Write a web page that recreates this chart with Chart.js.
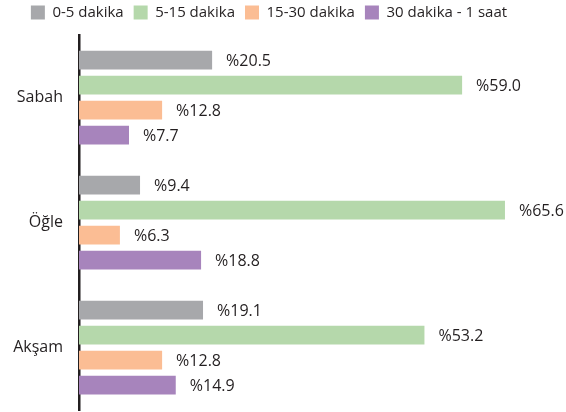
<!DOCTYPE html>
<html><head><meta charset="utf-8">
<script src="https://cdn.jsdelivr.net/npm/chart.js@4"></script>
<style>html,body{margin:0;padding:0;background:#fff;overflow:hidden}</style>
</head><body><canvas id="c" width="566" height="412" style="width:566px;height:412px;display:block"></canvas>
<script>
const categories = ["Sabah", "Öğle", "Akşam"];
const seriesNames = ["0-5 dakika", "5-15 dakika", "15-30 dakika", "30 dakika - 1 saat"];
const s05 = [20.5, 9.4, 19.1];
const s515 = [59.0, 65.6, 53.2];
const s1530 = [12.8, 6.3, 12.8];
const s30_60 = [7.7, 18.8, 14.9];
const colors = ["#a7a8ab", "#b5d8ab", "#fbbd94", "#a784bc"];
const FONT = "'Open Sans', sans-serif";

const labelPlugin = {
  id: 'vlabels',
  afterLayout(chart) {
    const lg = chart.legend;
    if (lg) { lg.left -= 14; lg.right -= 14; lg.top -= 5; lg.bottom -= 5; }
  },
  afterDatasetsDraw(chart) {
    const ctx = chart.ctx;
    ctx.save();
    ctx.font = "16px " + FONT;
    ctx.fillStyle = "#231f20";
    ctx.textBaseline = "middle";
    ctx.textAlign = "left";
    chart.data.datasets.forEach((ds, i) => {
      const meta = chart.getDatasetMeta(i);
      meta.data.forEach((el, j) => {
        ctx.fillText("%" + ds.data[j].toFixed(1), el.x + 14, el.y + 1);
      });
    });
    ctx.restore();
  }
};

new Chart(document.getElementById('c'), {
  type: 'bar',
  data: {
    labels: categories,
    datasets: [
      {label: seriesNames[0], data: s05, backgroundColor: colors[0]},
      {label: seriesNames[1], data: s515, backgroundColor: colors[1]},
      {label: seriesNames[2], data: s1530, backgroundColor: colors[2]},
      {label: seriesNames[3], data: s30_60, backgroundColor: colors[3]}
    ]
  },
  options: {
    indexAxis: 'y',
    responsive: false,
    animation: false,
    layout: {padding: {left: 0, right: 0, top: 0, bottom: 2}},
    datasets: {bar: {categoryPercentage: 0.8, barPercentage: 0.75}},
    plugins: {
      legend: {
        position: 'top',
        labels: {boxWidth: 14, boxHeight: 14, padding: 10, color: "#231f20", font: {family: FONT, size: 15}}
      },
      tooltip: {enabled: false}
    },
    scales: {
      x: {display: false, min: 0, max: 75},
      y: {
        afterFit(s) { s.width = 79; s.paddingTop = 0; s.paddingBottom = 0; },
        grid: {display: false, drawTicks: false},
        border: {display: true, color: "#231f20", width: 2.5},
        ticks: {color: "#231f20", padding: 16, font: {family: FONT, size: 16}}
      }
    }
  },
  plugins: [labelPlugin]
});
</script></body></html>
